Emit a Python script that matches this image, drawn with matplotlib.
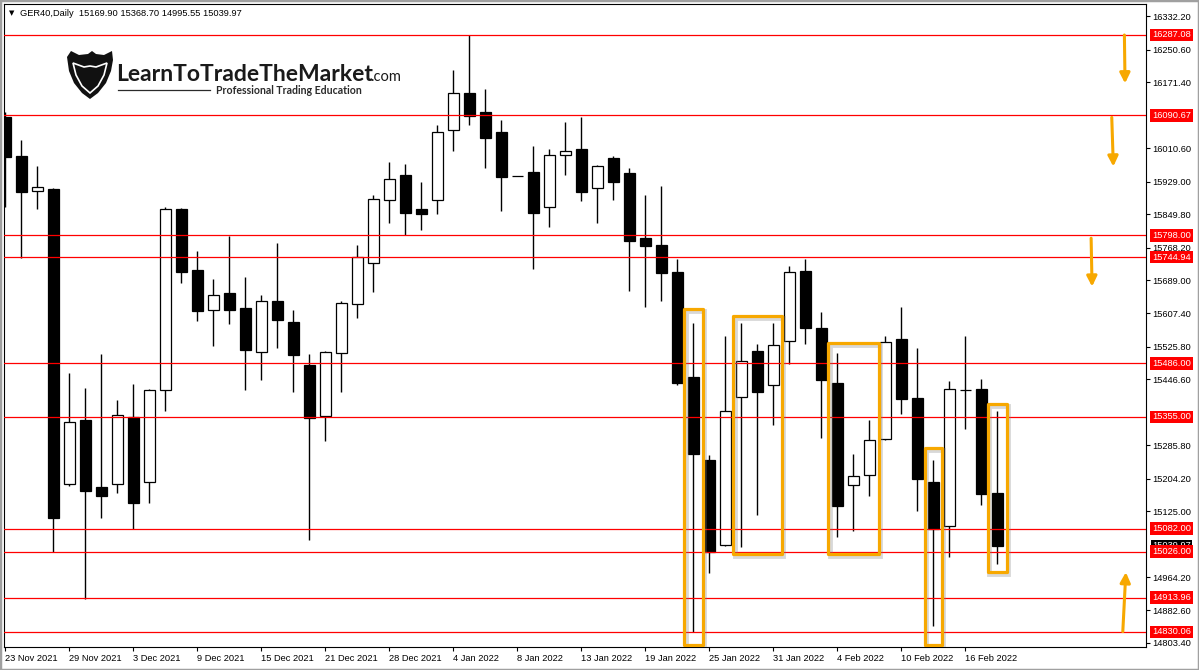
import matplotlib
matplotlib.use("Agg")
import matplotlib.pyplot as plt
from matplotlib.patches import Rectangle, Polygon
from matplotlib.transforms import blended_transform_factory, offset_copy

plt.rcParams['font.family'] = ['Liberation Sans', 'DejaVu Sans']

# --- data ---
symbol = "GER40,Daily"
last_ohlc = [15169.90, 15368.70, 14995.55, 15039.97]

opens = [16087.7, 15991.8, 15905.6, 15911.2, 15190.5, 15347.4, 15183.9, 15190.5, 15354.0, 15195.4,
         15419.9, 15862.4, 15712.8, 15615.2, 15657.4, 15620.8, 15512.7, 15637.9, 15586.6, 15482.4,
         15356.5, 15510.3, 15629.8, 15729.9, 15883.7, 15944.7, 15861.7, 15883.7, 16055.2, 16145.5,
         16099.2, 16050.3, 15942.2, 15952.0, 15866.6, 15993.5, 16008.8, 15912.9, 15986.9, 15949.5,
         15791.6, 15774.5, 15708.7, 15452.4, 15249.8, 15041.6, 15402.8, 15515.8, 15432.1, 15539.5,
         15711.1, 15572.0, 15437.7, 15188.1, 15212.5, 15300.4, 15545.1, 15401.1, 15196.2, 15088.0,
         15419.9, 15423.1, 15169.9]
highs = [16099.2, 16030.8, 15967.4, 15913.0, 15462.0, 15425.6, 15508.5, 15396.3, 15435.3, 15423.1,
         15866.6, 15866.0, 15759.9, 15691.6, 15795.8, 15696.5, 15652.5, 15779.4, 15615.9, 15508.5,
         15515.8, 15637.1, 15774.5, 15897.3, 15977.1, 15972.2, 15928.3, 16067.4, 16201.7, 16287.1,
         16155.3, 16079.6, 15942.2, 16015.4, 16008.8, 16074.7, 16087.7, 15970.5, 15991.8, 15962.5,
         15897.3, 15919.3, 15739.7, 15584.2, 15261.3, 15552.5, 15584.2, 15532.2, 15584.2, 15724.1,
         15740.4, 15611.0, 15511.0, 15264.5, 15347.4, 15552.5, 15622.5, 15522.4, 15249.1, 15442.6,
         15552.5, 15446.8, 15368.7]
lows = [15866.6, 15743.6, 15863.1, 15024.6, 15187.1, 14910.5, 15107.5, 15168.5, 15081.4, 15144.1,
        15370.1, 15681.1, 15589.8, 15528.8, 15582.5, 15421.4, 15445.8, 15523.9, 15416.5, 15055.3,
        15296.9, 15416.5, 15595.6, 15659.1, 15829.0, 15799.7, 15811.9, 15851.0, 16004.7, 16068.2,
        15963.2, 15857.5, 15942.2, 15716.7, 15819.2, 15946.1, 15882.7, 15829.0, 15885.1, 15663.0,
        15622.5, 15638.6, 15433.6, 14830.1, 14973.3, 15039.9, 15038.2, 15115.6, 15336.0, 15483.4,
        15533.7, 15304.3, 15062.6, 15077.3, 15162.7, 15297.9, 15362.8, 15126.1, 14845.4, 15013.8,
        15326.2, 15140.7, 14995.55]
closes = [15988.6, 15904.7, 15915.4, 15109.0, 15341.8, 15174.9, 15162.7, 15358.9, 15145.6, 15419.9,
          15862.4, 15709.4, 15614.2, 15651.8, 15616.6, 15519.0, 15637.1, 15592.2, 15506.8, 15351.6,
          15512.7, 15632.3, 15744.5, 15886.1, 15934.9, 15853.4, 15850.9, 16049.6, 16144.8, 16089.4,
          16036.4, 15941.2, 15942.2, 15853.4, 15993.5, 16003.3, 15904.7, 15966.6, 15929.0, 15785.1,
          15772.8, 15707.0, 15438.5, 15265.2, 15026.0, 15368.7, 15490.7, 15416.5, 15529.8, 15708.0,
          15572.7, 15445.8, 15138.3, 15210.0, 15297.9, 15537.1, 15397.9, 15204.2, 15082.0, 15423.1,
          15419.9, 15167.5, 15039.97]

date_labels = ["23 Nov 2021", "29 Nov 2021", "3 Dec 2021", "9 Dec 2021", "15 Dec 2021",
               "21 Dec 2021", "28 Dec 2021", "4 Jan 2022", "8 Jan 2022", "13 Jan 2022",
               "19 Jan 2022", "25 Jan 2022", "31 Jan 2022", "4 Feb 2022", "10 Feb 2022",
               "16 Feb 2022"]

price_ticks = [16332.20, 16250.60, 16171.40, 16010.60, 15929.00, 15849.80, 15768.20, 15689.00,
               15607.40, 15525.80, 15446.60, 15285.80, 15204.20, 15125.00, 14964.20, 14882.60,
               14803.40]

levels = [16287.08, 16090.67, 15798.00, 15744.94, 15486.00, 15355.00, 15082.00, 15026.00,
          14913.96, 14830.06]

# annotation boxes (bar from, bar to, price low, price high) and arrows (bar0, price0, bar1, price1)
boxes = [(42.44, 43.59, 14798, 15618), (45.48, 48.54, 15020, 15601), (51.42, 54.59, 15020, 15535),
         (57.46, 58.54, 14798, 15279), (61.40, 62.60, 14976, 15387)]
arrows = [(69.94, 16287, 69.98, 16169), (69.15, 16086, 69.25, 15966),
          (67.86, 15791, 67.92, 15673), (69.84, 14831, 70.03, 14976)]

orange = "#F7A800"
W, H = 1199, 670

fig = plt.figure(figsize=(W / 100, H / 100), dpi=100)
ax = fig.add_axes([4 / W, 23 / H, 1142 / W, 643 / H])

# candles
for i, (o, h, l, c) in enumerate(zip(opens, highs, lows, closes)):
    ax.vlines(i, l, h, color="black", lw=1.0, zorder=2)
    face = "white" if c > o else "black"
    ax.add_patch(Rectangle((i - 0.33, min(o, c)), 0.66, abs(c - o),
                           facecolor=face, edgecolor="black", lw=0.9, zorder=3))

for lv in levels:
    ax.axhline(lv, color="#ff0000", lw=0.9, zorder=4)

# orange boxes with soft shadow
shadow_tr = offset_copy(ax.transData, fig=fig, x=1.5, y=-2, units="dots")
for x0, x1, y0, y1 in boxes:
    ax.add_patch(Rectangle((x0, y0), x1 - x0, y1 - y0, fill=False, edgecolor="#808080",
                           alpha=0.3, lw=3.5, transform=shadow_tr, zorder=5))
    ax.add_patch(Rectangle((x0, y0), x1 - x0, y1 - y0, fill=False, edgecolor=orange,
                           lw=2.3, joinstyle="round", zorder=6))

for xa, ya, xb, yb in arrows:
    ax.annotate("", xy=(xb, yb), xytext=(xa, ya), zorder=6,
                arrowprops=dict(arrowstyle="-|>,head_length=0.6,head_width=0.3",
                                color=orange, lw=2.2, shrinkA=0, shrinkB=0))

ax.set_xlim(-0.08, 71.29)
ax.set_ylim(14793.4, 16362.7)

ax.set_xticks(range(0, len(opens), 4))
ax.set_xticklabels(date_labels, ha="left")
ax.tick_params(axis="x", direction="out", length=3, pad=2, labelsize=6.7, width=0.8)
ax.yaxis.tick_right()
ax.set_yticks(price_ticks)
ax.set_yticklabels([f"{v:.2f}" for v in price_ticks])
ax.tick_params(axis="y", direction="out", length=3, pad=1.5, labelsize=6.7, width=0.8)
for sp in ax.spines.values():
    sp.set_color("black")
    sp.set_linewidth(0.8)

# price labels on the right axis (current price mostly hidden under 15026)
tr = blended_transform_factory(ax.transAxes, ax.transData)
ax.text(1.0053, last_ohlc[3], f"{last_ohlc[3]:.2f}", transform=tr, color="white",
        fontsize=6.7, va="center", ha="left", clip_on=False, zorder=7,
        bbox=dict(boxstyle="square,pad=0.15", fc="black", ec="none"))
for lv in levels:
    ax.text(1.0053, lv, f"{lv:.2f}", transform=tr, color="white", fontsize=6.7, va="center",
            ha="left", clip_on=False, zorder=8,
            bbox=dict(boxstyle="square,pad=0.2", fc="#ff0000", ec="none"))

# header
fig.text(9 / W, 1 - 13 / H, "\u25bc", fontsize=5, va="center", family="DejaVu Sans")
fig.text(20.5 / W, 1 - 13 / H,
         symbol + "  " + " ".join(f"{v:.2f}" for v in last_ohlc),
         fontsize=6.7, va="center")


# logo
def px(x, y):
    return (x / W, 1 - y / H)


head = [(67, 57), (71, 51), (79, 55), (88, 54), (92, 51), (96, 54), (104, 55), (112, 51),
        (113, 60), (111, 71), (106, 83), (98, 93), (90, 99), (82, 93), (74, 83), (69, 71)]
fig.patches.append(Polygon([px(*p) for p in head], closed=True, fc="#111111", ec="none",
                           transform=fig.transFigure))
face = [(73, 63), (84, 67), (90, 66), (96, 67), (107, 63), (104, 75), (98, 86), (90, 93),
        (82, 86), (76, 75)]
fig.patches.append(Polygon([px(*p) for p in face], closed=True, fc="none", ec="white", lw=1.2,
                           transform=fig.transFigure))
fig.text(116 / W, 1 - 81 / H, "LearnToTradeTheMarket", fontsize=16.5, fontweight="bold",
         family="Lato", color="#1a1a1a", va="baseline")
fig.text(370 / W, 1 - 81 / H, ".com", fontsize=10.5, family="Lato", color="#1a1a1a",
         va="baseline")
fig.text(216 / W, 1 - 93.5 / H, "Professional Trading Education", fontsize=7.6,
         fontweight="bold", family="Lato", color="#2a2a2a", va="baseline")
fig.add_artist(plt.Line2D([118 / W, 210 / W], [1 - 89.5 / H, 1 - 89.5 / H], color="#2a2a2a",
                          lw=0.9, transform=fig.transFigure))

# window frame
fig.patches.append(Rectangle((0, 0), 1, 1, transform=fig.transFigure, fill=False,
                             ec="#a0a0a0", lw=2.5))

fig.savefig("out.png", dpi=100, facecolor="white")
